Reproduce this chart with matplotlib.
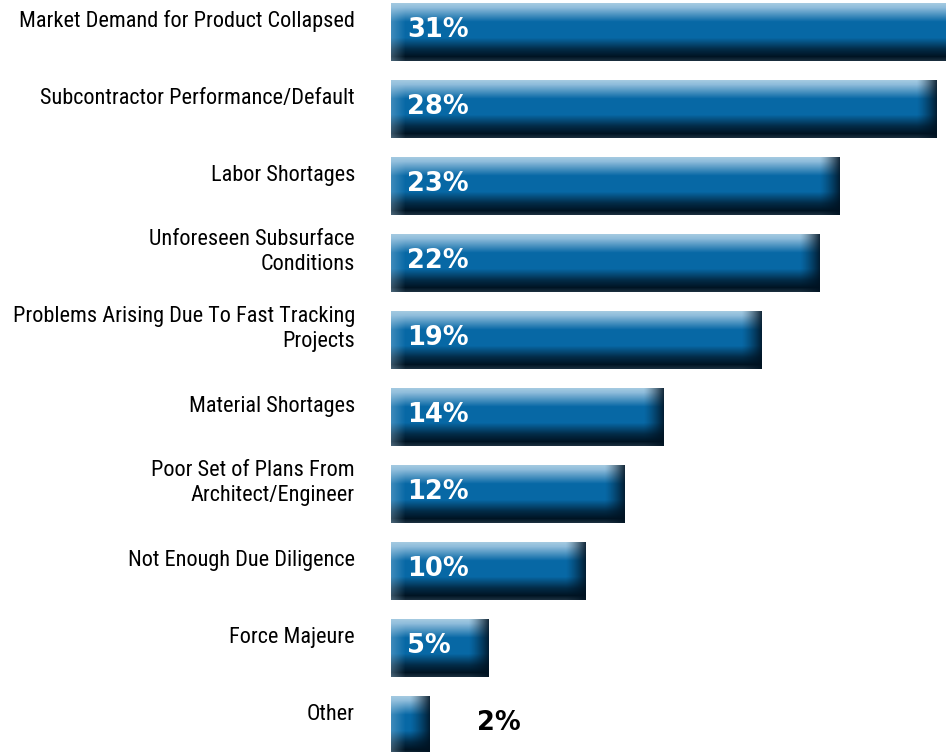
import numpy as np
import matplotlib
matplotlib.use("Agg")
import matplotlib.pyplot as plt

categories = [
    "Market Demand for Product Collapsed",
    "Subcontractor Performance/Default",
    "Labor Shortages",
    "Unforeseen Subsurface\nConditions",
    "Problems Arising Due To Fast Tracking\nProjects",
    "Material Shortages",
    "Poor Set of Plans From\nArchitect/Engineer",
    "Not Enough Due Diligence",
    "Force Majeure",
    "Other",
]
percent = [31, 28, 23, 22, 19, 14, 12, 10, 5, 2]

W, H, DPI = 946, 752, 100
PX_PER_PCT = 19.5      # horizontal scale, pixels per percent
ROW_PX = 77.0          # row spacing in pixels
BAR_PX = 58.0          # bar thickness in pixels
LEFT_PX = 391          # where the bars start

LABEL_FONT = ["Roboto Condensed", "Liberation Sans Narrow", "Roboto", "DejaVu Sans"]

fig = plt.figure(figsize=(W / DPI, H / DPI), dpi=DPI)
ax = fig.add_axes([LEFT_PX / W, 0, (W - LEFT_PX) / W, 1])
ax.set_axis_off()

xmax = (W - LEFT_PX) / PX_PER_PCT
ytop = -32 / ROW_PX
ybot = (H - 32) / ROW_PX
bar_h = BAR_PX / ROW_PX

ypos = np.arange(len(categories))
bars = ax.barh(ypos, percent, height=bar_h, color="#0667a5", linewidth=0)


def bar_shading(w_px, h_px):
    # vertical profile: light top sheen -> base blue -> dark bottom
    stops = [0.0, 0.07, 0.32, 0.60, 0.80, 0.93, 1.0]
    r = [0.64, 0.56, 0.03, 0.03, 0.01, 0.00, 0.10]
    g = [0.79, 0.74, 0.41, 0.41, 0.17, 0.08, 0.18]
    b = [0.88, 0.86, 0.65, 0.65, 0.28, 0.14, 0.24]
    t = np.linspace(0, 1, h_px)
    col = np.stack([np.interp(t, stops, r), np.interp(t, stops, g),
                    np.interp(t, stops, b)], axis=1)
    img = np.repeat(col[:, None, :], w_px, axis=1)

    x = np.arange(w_px)
    # soft highlight along the left end
    lf = np.clip(1 - x / 14.0, 0, 1) * 0.35
    light = np.array([0.62, 0.78, 0.88])
    img = img * (1 - lf[None, :, None]) + light * lf[None, :, None]
    # dark bevel on the right end
    rf = np.clip(1 - (w_px - 1 - x) / 20.0, 0, 1) ** 1.3 * 0.85
    dark = np.array([0.0, 0.07, 0.13])
    img = img * (1 - rf[None, :, None]) + dark * rf[None, :, None]
    return np.clip(img, 0, 1)


for rect, v in zip(bars, percent):
    w_px = max(int(round(rect.get_width() * PX_PER_PCT)), 2)
    x0, y0 = rect.get_x(), rect.get_y()
    im = ax.imshow(bar_shading(w_px, int(BAR_PX)), origin="upper",
                   extent=(x0, x0 + rect.get_width(), y0 + rect.get_height(), y0),
                   aspect="auto", interpolation="bilinear", zorder=3)
    im.set_clip_path(rect)

ax.set_xlim(0, xmax)
ax.set_ylim(ybot, ytop)

# category names, right-aligned left of the bars
label_x = (355 - LEFT_PX) / (W - LEFT_PX)
for y, name in zip(ypos, categories):
    ax.text(label_x, y - 0.14, name, transform=ax.get_yaxis_transform(),
            ha="right", va="center", multialignment="right",
            fontsize=16.0, color="black", linespacing=1.22,
            family=LABEL_FONT, clip_on=False)

# value labels: inside the bar in white, beside it in black when too short
for y, v in zip(ypos, percent):
    if v >= 4:
        ax.text(0.82, y - 0.02, f"{v}%", ha="left", va="center",
                fontsize=18.5, fontweight="bold", color="white", zorder=5)
    else:
        ax.text(v + 2.4, y - 0.02, f"{v}%", ha="left", va="center",
                fontsize=18.5, fontweight="bold", color="black", zorder=5)

fig.savefig("out.png", dpi=DPI)
